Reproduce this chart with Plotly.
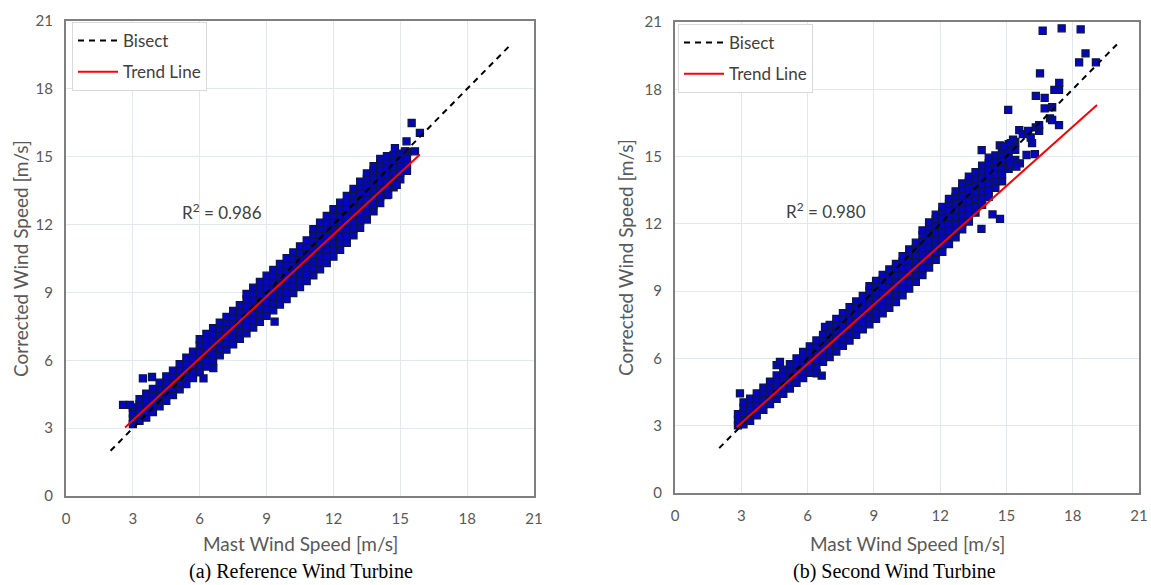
import plotly.graph_objects as go

W, H = 1151, 585

# ---------------- data: panel (a) Reference Wind Turbine ----------------
a_col_x = [3.0, 3.3, 3.6, 3.9, 4.2, 4.5, 4.8, 5.1, 5.4, 5.7, 6.0, 6.3, 6.6, 6.9,
           7.2, 7.5, 7.8, 8.1, 8.4, 8.7, 9.0, 9.3, 9.6, 9.9, 10.2, 10.5, 10.8,
           11.1, 11.4, 11.7, 12.0, 12.3, 12.6, 12.9, 13.2, 13.5, 13.8, 14.1,
           14.4, 14.7, 15.0, 15.3]
a_col_y = [
    [3.18, 3.42, 3.66, 3.92],
    [3.32, 3.57, 3.81, 4.06, 4.28],
    [3.47, 3.73, 3.99, 4.24, 4.52],
    [3.71, 3.96, 4.23, 4.49, 4.74],
    [3.96, 4.22, 4.47, 4.74, 5.01],
    [4.21, 4.49, 4.76, 5.03, 5.29],
    [4.46, 4.73, 5.01, 5.27, 5.54],
    [4.71, 4.99, 5.27, 5.55, 5.83],
    [4.95, 5.24, 5.54, 5.84, 6.12],
    [5.21, 5.49, 5.79, 6.09, 6.38],
    [5.47, 5.76, 6.06, 6.36, 6.66, 6.93],
    [5.72, 6.01, 6.31, 6.61, 6.90, 7.17],
    [5.97, 6.26, 6.56, 6.86, 7.15, 7.42],
    [6.22, 6.51, 6.81, 7.11, 7.40, 7.66],
    [6.47, 6.76, 7.06, 7.36, 7.65, 7.92],
    [6.70, 7.00, 7.30, 7.60, 7.90, 8.18],
    [6.95, 7.25, 7.55, 7.85, 8.15, 8.44],
    [7.19, 7.49, 7.79, 8.09, 8.39, 8.69, 8.93],
    [7.45, 7.75, 8.05, 8.35, 8.65, 8.95, 9.21],
    [7.70, 8.00, 8.30, 8.60, 8.90, 9.20, 9.47],
    [7.96, 8.26, 8.56, 8.86, 9.16, 9.46, 9.74],
    [8.21, 8.51, 8.81, 9.11, 9.41, 9.71, 10.00],
    [8.46, 8.76, 9.06, 9.36, 9.66, 9.96, 10.26],
    [8.71, 9.01, 9.31, 9.61, 9.91, 10.21, 10.51],
    [8.97, 9.27, 9.57, 9.87, 10.17, 10.47, 10.77],
    [9.24, 9.54, 9.84, 10.14, 10.44, 10.74, 11.04],
    [9.50, 9.80, 10.10, 10.40, 10.70, 11.00, 11.30],
    [9.76, 10.06, 10.36, 10.66, 10.96, 11.26, 11.56, 11.80],
    [10.02, 10.32, 10.62, 10.92, 11.22, 11.52, 11.82, 12.08],
    [10.30, 10.60, 10.90, 11.20, 11.50, 11.80, 12.10, 12.38],
    [10.58, 10.88, 11.18, 11.48, 11.78, 12.08, 12.38, 12.68],
    [10.88, 11.18, 11.48, 11.78, 12.08, 12.38, 12.68, 12.97],
    [11.19, 11.49, 11.79, 12.09, 12.39, 12.69, 12.99, 13.27],
    [11.52, 11.82, 12.12, 12.42, 12.72, 13.02, 13.32, 13.58],
    [11.86, 12.16, 12.46, 12.76, 13.06, 13.36, 13.66, 13.90],
    [12.22, 12.52, 12.82, 13.12, 13.42, 13.72, 14.02, 14.26],
    [12.58, 12.88, 13.18, 13.48, 13.78, 14.08, 14.38, 14.58],
    [12.95, 13.25, 13.55, 13.85, 14.15, 14.45, 14.72, 14.90],
    [13.30, 13.60, 13.90, 14.20, 14.50, 14.78, 15.02],
    [13.65, 13.95, 14.25, 14.55, 14.84, 15.08],
    [14.00, 14.30, 14.60, 14.88, 15.14],
    [14.38, 14.66, 14.95, 15.22],
]
a_out_x = [2.56, 2.87, 3.45, 3.86, 6.17, 6.61, 9.36, 14.76, 15.21, 15.28,
           15.51, 15.66, 15.88, 14.46, 14.84]
a_out_y = [4.03, 4.03, 5.20, 5.26, 5.20, 5.65, 7.71, 15.38, 15.24, 15.68,
           16.49, 15.24, 16.05, 13.32, 13.76]
a_trend_x = [2.65, 15.88]
a_trend_y = [3.03, 15.10]
a_r2 = "R<sup>2</sup> = 0.986"

# ---------------- data: panel (b) Second Wind Turbine ----------------
b_col_x = [2.85, 3.1, 3.4, 3.7, 4.0, 4.3, 4.6, 4.9, 5.2, 5.5, 5.8, 6.1, 6.4,
           6.7, 7.0, 7.3, 7.6, 7.9, 8.2, 8.5, 8.8, 9.1, 9.4, 9.7, 10.0, 10.3,
           10.6, 10.9, 11.2, 11.5, 11.8, 12.1, 12.4, 12.7, 13.0, 13.3, 13.6,
           13.9, 14.2, 14.5, 14.8, 15.1, 15.4]
b_col_y = [
    [3.02, 3.27, 3.52],
    [3.06, 3.31, 3.56, 3.81, 4.04],
    [3.22, 3.47, 3.72, 3.97, 4.21],
    [3.46, 3.71, 3.96, 4.21, 4.44],
    [3.71, 3.96, 4.21, 4.46, 4.70],
    [3.96, 4.21, 4.46, 4.71, 4.96],
    [4.20, 4.45, 4.71, 4.97, 5.24],
    [4.42, 4.70, 4.96, 5.22, 5.50],
    [4.66, 4.94, 5.21, 5.47, 5.74],
    [4.91, 5.19, 5.46, 5.72, 6.00],
    [5.12, 5.41, 5.71, 6.00, 6.29],
    [5.36, 5.65, 5.95, 6.25, 6.54],
    [5.60, 5.90, 6.20, 6.50, 6.80],
    [5.85, 6.15, 6.45, 6.75, 7.05],
    [6.06, 6.36, 6.66, 6.96, 7.26, 7.50],
    [6.31, 6.61, 6.91, 7.21, 7.51, 7.76],
    [6.56, 6.86, 7.16, 7.46, 7.76, 8.02],
    [6.80, 7.10, 7.40, 7.70, 8.00, 8.29],
    [7.05, 7.35, 7.65, 7.95, 8.25, 8.54],
    [7.30, 7.60, 7.90, 8.20, 8.50, 8.79],
    [7.52, 7.82, 8.12, 8.42, 8.72, 9.02, 9.22],
    [7.76, 8.06, 8.36, 8.66, 8.96, 9.26, 9.46],
    [8.01, 8.31, 8.61, 8.91, 9.21, 9.51, 9.72],
    [8.26, 8.56, 8.86, 9.16, 9.46, 9.76, 9.97],
    [8.51, 8.81, 9.11, 9.41, 9.71, 10.01, 10.22],
    [8.81, 9.11, 9.41, 9.71, 10.01, 10.31, 10.56],
    [9.11, 9.41, 9.71, 10.01, 10.31, 10.61, 10.86],
    [9.41, 9.71, 10.01, 10.31, 10.61, 10.91, 11.16],
    [9.71, 10.01, 10.31, 10.61, 10.91, 11.21, 11.50, 11.71],
    [10.05, 10.35, 10.65, 10.95, 11.25, 11.55, 11.85, 12.06],
    [10.40, 10.70, 11.00, 11.30, 11.60, 11.90, 12.20, 12.41],
    [10.75, 11.05, 11.35, 11.65, 11.95, 12.25, 12.55, 12.76],
    [11.10, 11.40, 11.70, 12.00, 12.30, 12.60, 12.90, 13.11],
    [11.40, 11.70, 12.00, 12.30, 12.60, 12.90, 13.20, 13.45],
    [11.75, 12.05, 12.35, 12.65, 12.95, 13.25, 13.55, 13.80],
    [12.10, 12.40, 12.70, 13.00, 13.30, 13.60, 13.90, 14.11],
    [12.50, 12.80, 13.10, 13.40, 13.70, 14.00, 14.30],
    [12.85, 13.15, 13.45, 13.75, 14.05, 14.35, 14.60],
    [13.20, 13.50, 13.80, 14.10, 14.40, 14.70, 14.95],
    [13.60, 13.90, 14.20, 14.50, 14.80, 15.05],
    [13.90, 14.20, 14.50, 14.80, 15.10, 15.35],
    [14.45, 14.90, 15.25, 15.55],
    [14.85, 15.30, 15.65],
]
b_out_x = [2.94, 4.60, 4.75, 6.41, 6.64, 6.79, 13.87, 14.37, 14.71, 13.88,
           14.70, 14.90, 15.20, 15.08, 15.58, 15.61, 15.74, 15.91, 15.98,
           16.10, 16.16, 16.29, 16.33, 16.48, 16.52, 16.64, 16.73, 16.73,
           16.97, 17.07, 17.07, 17.17, 17.38, 17.38, 17.39, 17.50, 18.29,
           18.36, 18.58, 19.05, 15.16, 15.45, 16.33, 16.48, 15.30]
b_out_y = [4.44, 5.70, 5.85, 5.34, 5.23, 7.41, 11.78, 12.42, 12.22, 15.29,
           15.50, 15.45, 15.60, 17.08, 16.18, 14.70, 16.00, 15.07, 16.15,
           15.85, 15.60, 15.11, 17.71, 16.15, 18.71, 20.61, 17.62, 17.15,
           16.70, 16.63, 17.20, 17.97, 17.97, 16.40, 18.29, 20.72, 19.20,
           20.67, 19.60, 19.20, 14.62, 14.55, 16.30, 16.40, 15.75]
b_trend_x = [2.80, 19.10]
b_trend_y = [2.94, 17.30]
b_r2 = "R<sup>2</sup> = 0.980"

bisect_x = [2, 20]
bisect_y = [2, 20]

ticks = [0, 3, 6, 9, 12, 15, 18, 21]
x_title = "Mast Wind Speed [m/s]"
y_title = "Corrected Wind Speed [m/s]"
captions = ["(a) Reference Wind Turbine", "(b) Second Wind Turbine"]


def flatten(cols_x, cols_y, out_x, out_y):
    xs, ys = [], []
    for cx, col in zip(cols_x, cols_y):
        xs += [cx] * len(col)
        ys += list(col)
    return xs + list(out_x), ys + list(out_y)


ax_x, ax_y = flatten(a_col_x, a_col_y, a_out_x, a_out_y)
bx_x, bx_y = flatten(b_col_x, b_col_y, b_out_x, b_out_y)

MARKER = dict(symbol="square", size=7, color="#0606c2",
              line=dict(color="#0b1648", width=1.3))
FONT = "Lato, 'Open Sans', sans-serif"

fig = go.Figure()

for (sx, sy), (xa, ya), (tx, ty), leg in [
    ((ax_x, ax_y), ("x", "y"), (a_trend_x, a_trend_y), "legend"),
    ((bx_x, bx_y), ("x2", "y2"), (b_trend_x, b_trend_y), "legend2"),
]:
    fig.add_trace(go.Scatter(x=sx, y=sy, mode="markers", marker=MARKER,
                             xaxis=xa, yaxis=ya, showlegend=False,
                             hoverinfo="skip"))
    fig.add_trace(go.Scatter(x=bisect_x, y=bisect_y, mode="lines",
                             name="Bisect", legend=leg, legendgroup="g1",
                             line=dict(color="#000000", width=2, dash="6px,5px"),
                             xaxis=xa, yaxis=ya))
    fig.add_trace(go.Scatter(x=tx, y=ty, mode="lines", name="Trend Line",
                             legend=leg, legendgroup="g2",
                             line=dict(color="#ff0000", width=2),
                             xaxis=xa, yaxis=ya))


def px_x(p):
    return p / W


def px_y(p):
    return 1 - p / H


axis_common = dict(range=[0, 21], tickvals=ticks, showgrid=True,
                   gridcolor="#e3e7ef", gridwidth=1, zeroline=False,
                   showline=True, mirror=True, linecolor="#7f7f7f",
                   linewidth=2, ticks="outside", ticklen=8,
                   tickcolor="rgba(0,0,0,0)",
                   tickfont=dict(family=FONT, size=15, color="#595959"))

LEG = dict(xanchor="left", yanchor="top", bgcolor="white",
           bordercolor="#d9d9d9", borderwidth=1,
           font=dict(family=FONT, size=17, color="#404040"),
           tracegroupgap=6, itemwidth=40)

fig.update_layout(
    width=W, height=H,
    margin=dict(l=0, r=0, t=0, b=0, autoexpand=False),
    paper_bgcolor="white", plot_bgcolor="white",
    xaxis=dict(domain=[px_x(66), px_x(534)], anchor="y", **axis_common),
    yaxis=dict(domain=[px_y(496), px_y(21)], anchor="x", **axis_common),
    xaxis2=dict(domain=[px_x(675), px_x(1139)], anchor="y2", **axis_common),
    yaxis2=dict(domain=[px_y(493), px_y(22)], anchor="x2", **axis_common),
    legend=dict(x=px_x(72), y=px_y(22), **LEG),
    legend2=dict(x=px_x(678), y=px_y(24), **LEG),
    showlegend=True,
)

ann = []
# axis titles
for cx in (300, 907):
    ann.append(dict(text=x_title, x=px_x(cx), y=px_y(543), xref="paper",
                    yref="paper", showarrow=False, xanchor="center",
                    yanchor="middle",
                    font=dict(family=FONT, size=19, color="#595959")))
for cx, cy in ((20, 259), (625, 258)):
    ann.append(dict(text=y_title, x=px_x(cx), y=px_y(cy), xref="paper",
                    yref="paper", showarrow=False, textangle=-90,
                    xanchor="center", yanchor="middle",
                    font=dict(family=FONT, size=19, color="#595959")))
# captions
for cx, txt in ((301, captions[0]), (894, captions[1])):
    ann.append(dict(text=txt, x=px_x(cx), y=px_y(571), xref="paper",
                    yref="paper", showarrow=False, xanchor="center",
                    yanchor="middle",
                    font=dict(family="'Liberation Serif', 'Times New Roman', serif",
                              size=20, color="#000000")))
# R^2 labels
ann.append(dict(text=a_r2, x=7.0, y=12.6, xref="x", yref="y", showarrow=False,
                font=dict(family=FONT, size=17, color="#404040")))
ann.append(dict(text=b_r2, x=6.83, y=12.6, xref="x2", yref="y2",
                showarrow=False,
                font=dict(family=FONT, size=17, color="#404040")))
fig.update_layout(annotations=ann)

fig.write_html("out.html")
